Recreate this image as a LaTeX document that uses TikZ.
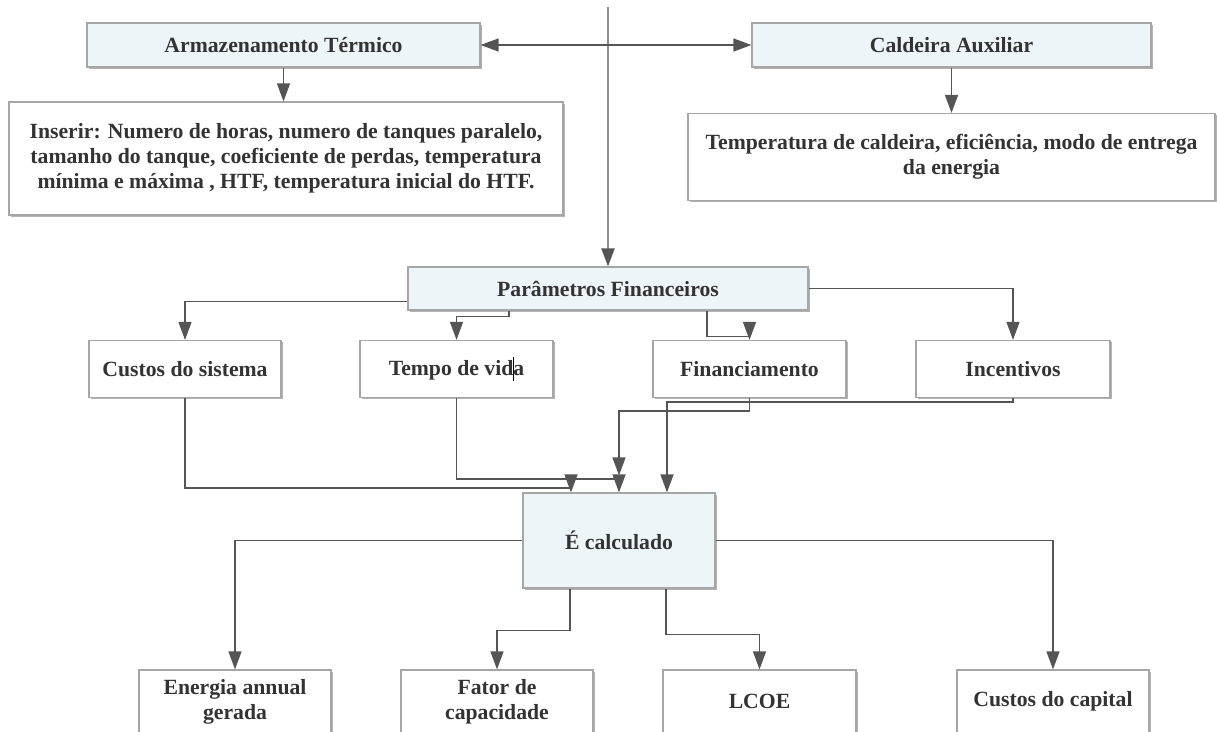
\documentclass[tikz,border=0pt]{standalone}
\usepackage{fontspec}
\setmainfont{Liberation Serif}
\usetikzlibrary{arrows.meta,shadows}

\definecolor{boxblue}{HTML}{EEF5F9}
\definecolor{boxline}{HTML}{A6A6A6}
\definecolor{wire}{HTML}{555555}
\definecolor{trunkc}{HTML}{8C8C8C}
\definecolor{txt}{HTML}{333333}

\tikzset{
  card/.style={draw=boxline, line width=1.2pt, fill=white, text=txt,
    font=\fontsize{21.7}{25}\selectfont\bfseries, align=center, inner sep=0pt,
    drop shadow={shadow xshift=1.6pt, shadow yshift=-1.6pt, fill=black, opacity=0.3}},
  keycard/.style={card, fill=boxblue},
  tip/.style={-{Triangle[length=18pt,width=13pt,color=wire]}},
  wirestyle/.style={draw=wire, line width=1.3pt, tip},
  trunk/.style={draw=trunkc, line width=2.2pt, tip},
}

\begin{document}
\begin{tikzpicture}[x=1pt,y=-1pt]
  \path[use as bounding box] (0,0) rectangle (1217,731);
  \clip (0,0) rectangle (1217,731);

  % top row: storage and auxiliary boiler
  \node[keycard, minimum width=393pt, minimum height=44pt] (arm) at (283.5,45) {Armazenamento Térmico};
  \node[card, minimum width=554pt, minimum height=113pt] (ins) at (286,158.5)
    {Inserir: Numero de horas, numero de tanques paralelo,\\
     tamanho do tanque, coeficiente de perdas, temperatura\\
     mínima e máxima , HTF, temperatura inicial do HTF.};
  \node[keycard, minimum width=399pt, minimum height=44pt] (cal) at (951.5,45) {Caldeira Auxiliar};
  \node[card, minimum width=527pt, minimum height=87pt] (tmp) at (951.5,157)
    {Temperatura de caldeira, eficiência, modo de entrega\\ da energia};

  % financial parameters
  \node[keycard, minimum width=400pt, minimum height=43pt] (par) at (608,288.5) {Parâmetros Financeiros};
  \node[card, minimum width=192pt, minimum height=57pt] (cus) at (185,369) {Custos do sistema};
  \node[card, minimum width=193pt, minimum height=57pt] (vid) at (456.5,369)
    {Tempo de vid\makebox[0pt]{\color{black}\rule[-6pt]{1.3pt}{24pt}}a};
  \node[card, minimum width=193pt, minimum height=57pt] (fin) at (749.5,369) {Financiamento};
  \node[card, minimum width=194pt, minimum height=57pt] (inc) at (1013,369) {Incentivos};

  % results
  \node[keycard, minimum width=192pt, minimum height=95pt] (calc) at (619,540.5) {É calculado};
  \node[card, minimum width=192pt, minimum height=63pt] (ene) at (235,701.5) {Energia annual\\ gerada};
  \node[card, minimum width=192pt, minimum height=63pt] (fat) at (497,701.5) {Fator de\\ capacidade};
  \node[card, minimum width=193pt, minimum height=63pt] (lcoe) at (759.5,701.5) {LCOE};
  \node[card, minimum width=192pt, minimum height=63pt] (cap) at (1053,701.5) {Custos do capital};

  % main trunk and the two branches at the top
  \coordinate (top) at (608,7);
  \draw[trunk] (top) -- (par.north);
  \draw[wirestyle, {Triangle[length=18pt,width=13pt,color=wire]}-{Triangle[length=18pt,width=13pt,color=wire]}]
    (arm.east) -- (cal.west);
  \draw[wirestyle] (arm.south) -- (arm.south |- ins.north);
  \draw[wirestyle] (cal.south) -- (cal.south |- tmp.north);

  % financial parameters to their four inputs
  \draw[wirestyle] ([yshift=9pt]par.south west) -| (cus.north);
  \draw[wirestyle] ([xshift=-99pt]par.south) -- ++(0,6) -| (vid.north);
  \draw[wirestyle] ([xshift=99pt]par.south) -- ++(0,26) -| (fin.north);
  \draw[wirestyle] (par.east) -| (inc.north);

  % inputs gathered into the calculation
  \coordinate (finend) at ([yshift=17pt]calc.north);
  \draw[wirestyle] (cus.south) -- ++(0,90) -| ([xshift=-48pt]calc.north);
  \draw[wirestyle] (vid.south) -- ++(0,81) -| (calc.north);
  \draw[wirestyle] (fin.south) -- ++(0,13) -| (finend);
  \draw[wirestyle] (inc.south) -- ++(0,4) -| ([xshift=48pt]calc.north);

  % calculated outputs
  \draw[wirestyle] (calc.west) -| (ene.north);
  \draw[wirestyle] ([xshift=-49pt]calc.south) -- ++(0,42) -| (fat.north);
  \draw[wirestyle] ([xshift=47pt]calc.south) -- ++(0,46) -| (lcoe.north);
  \draw[wirestyle] (calc.east) -| (cap.north);
\end{tikzpicture}
\end{document}
